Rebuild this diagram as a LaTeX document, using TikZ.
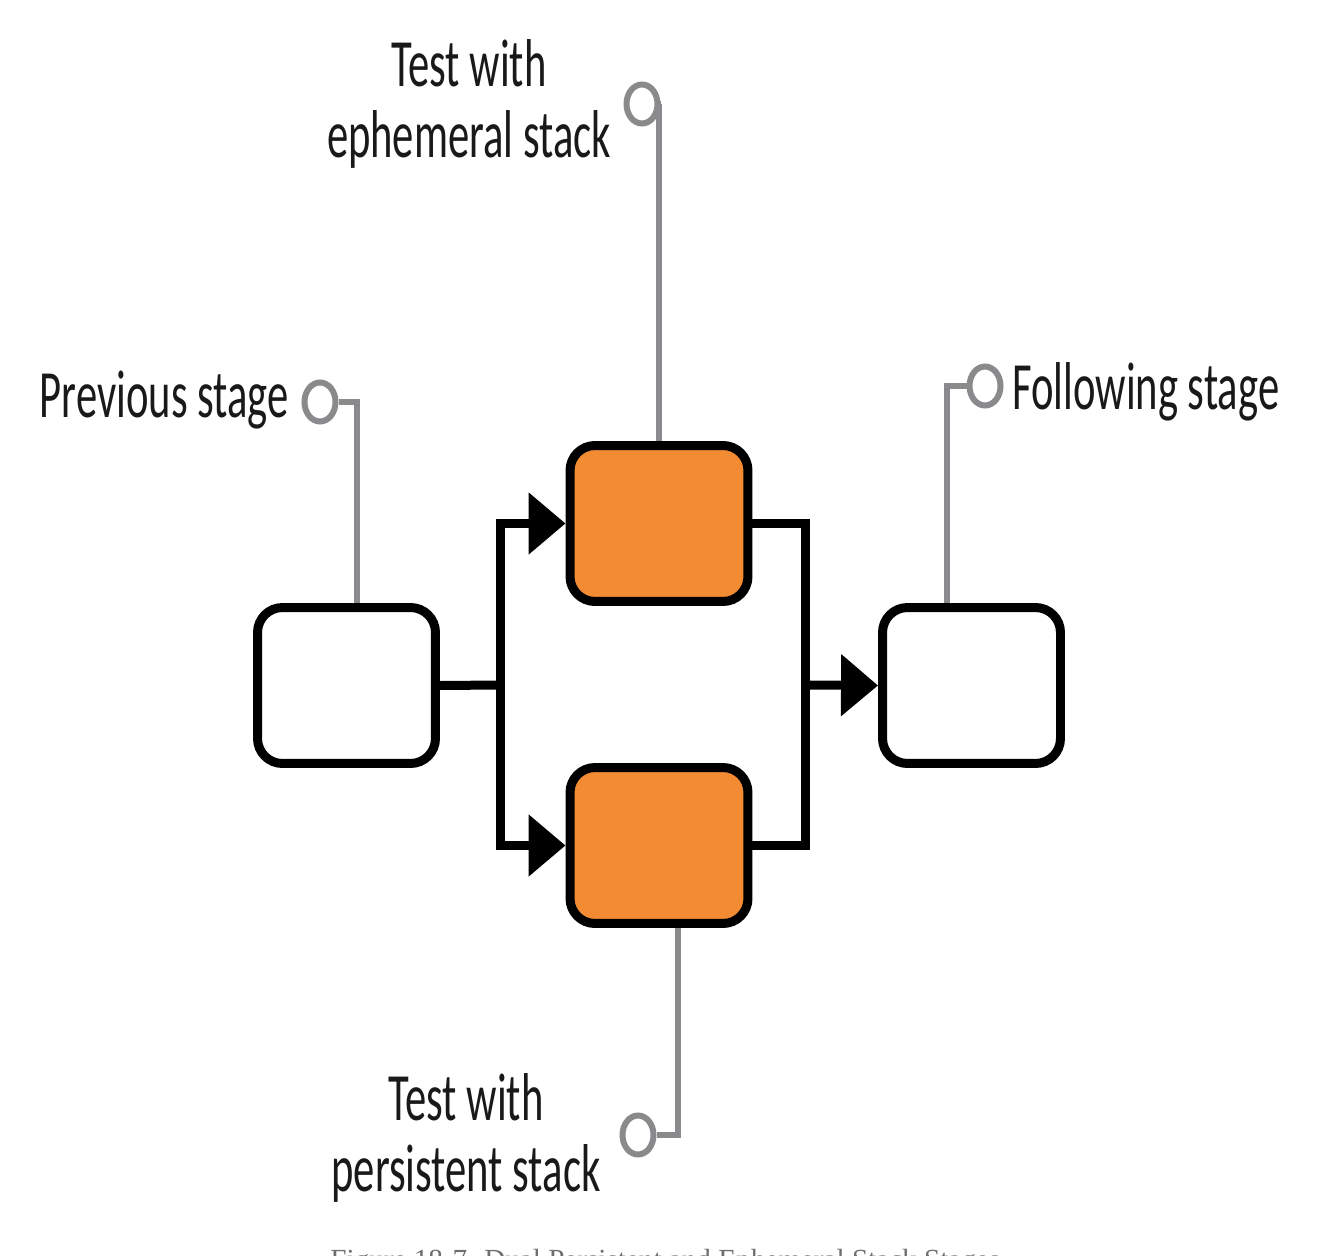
\documentclass[tikz,border=0pt]{standalone}
\usepackage{fontspec}
\newfontfamily\labelfont{Carlito}[FakeStretch=0.63]
\newfontfamily\captionfont{Liberation Serif}
\usetikzlibrary{arrows.meta, shapes.geometric}

\definecolor{stageorange}{RGB}{243,139,51}
\definecolor{pingray}{RGB}{138,138,140}
\definecolor{captiongray}{RGB}{110,110,110}

\begin{document}
\begin{tikzpicture}[x=0.02cm, y=-0.02cm,
    stage/.style={draw=black, line width=0.18cm, fill=white, rounded corners=0.5cm,
      minimum width=3.56cm, minimum height=3.12cm, inner sep=0pt},
    flow/.style={line width=0.18cm, black},
    tip/.style={-{Triangle[length=0.74cm, width=1.2cm]}},
    pin/.style={line width=0.13cm, pingray},
    pinhole/.style={ellipse, draw=pingray, line width=0.12cm, fill=white,
      minimum width=0.62cm, minimum height=0.78cm, inner sep=0pt},
    stagelabel/.style={font=\labelfont\fontsize{38.5}{40}\selectfont, text=black!90, inner sep=0pt}]
  \useasboundingbox (0, 0) rectangle (1331, 1256);

  \node[stage] (prev) at (346.5, 685.5) {};
  \node[stage, fill=stageorange] (eph) at (659, 523.5) {};
  \node[stage, fill=stageorange] (pers) at (659, 845.5) {};
  \node[stage] (next) at (971.5, 685.5) {};

  \coordinate (fork) at (500, 685);
  \coordinate (join) at (805, 685);
  \draw[flow] (prev.east) -- (fork);
  \foreach \n in {eph, pers} {
    \draw[flow, tip] (fork) |- (\n.west);
    \draw[flow] (\n.east) -| (join);
  }
  \draw[flow, tip] (join) -- (next.west);

  % pins with their labels
  \node[pinhole] (prevpin) at (320, 402) {};
  \node[pinhole] (ephpin) at (642, 104) {};
  \node[pinhole] (perspin) at (638, 1135) {};
  \node[pinhole] (nextpin) at (985, 386) {};
  \draw[pin] (prevpin.east) -| ([xshift=0.21cm]prev.north);
  \draw[pin] (ephpin.east) -| (eph.north);
  \draw[pin] (perspin.east) -| ([xshift=0.38cm]pers.south);
  \draw[pin] (nextpin.west) -| ([xshift=-0.49cm]next.north);

  \node[stagelabel, anchor=base east] (prevtext) at (289, 418) {Previous stage};
  \node[stagelabel, anchor=base west] (nexttext) at (1012, 410) {Following stage};
  \node[stagelabel, align=center] (ephtext) at (469, 104) {Test with\\ephemeral stack};
  \node[stagelabel, align=center] (perstext) at (466, 1138) {Test with\\persistent stack};

  \node[anchor=base west, inner sep=0pt, text=captiongray,
    font=\captionfont\fontsize{16.6}{19}\selectfont] (caption) at (330, 1269)
    {Figure 18-7. Dual Persistent and Ephemeral Stack Stages};
\end{tikzpicture}
\end{document}
